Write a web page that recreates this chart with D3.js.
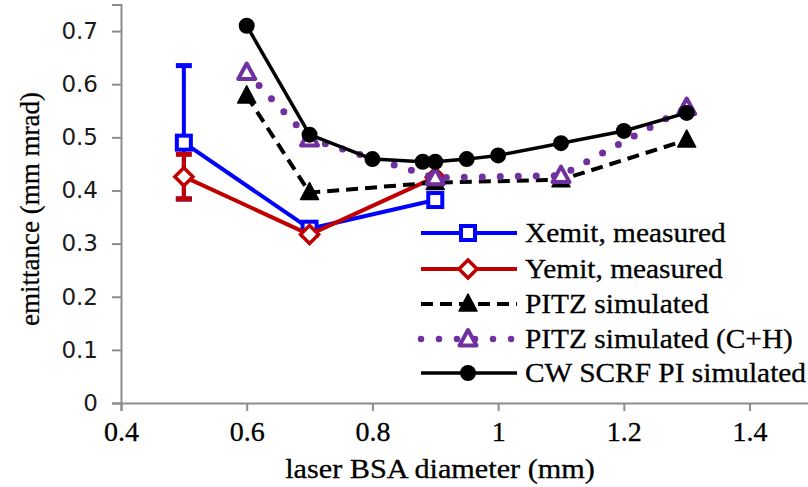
<!DOCTYPE html>
<html>
<head>
<meta charset="utf-8">
<script src="https://cdn.jsdelivr.net/npm/d3@7"></script>
<style>
  html, body { margin: 0; padding: 0; background: #fff; }
  svg { display: block; }
</style>
</head>
<body>
<svg id="chart" width="808" height="487"></svg>
<script>
// Emittance vs. laser BSA diameter
const xTicks = [0.4, 0.6, 0.8, 1.0, 1.2, 1.4];
const yTicks = [0, 0.1, 0.2, 0.3, 0.4, 0.5, 0.6, 0.7];

const xemitD = [0.5, 0.7, 0.9];
const xemitE = [0.49, 0.328, 0.382];
const xemitErrUp = [0.145, 0, 0];
const xemitErrDown = [0.106, 0, 0];

const yemitD = [0.5, 0.7, 0.9];
const yemitE = [0.426, 0.317, 0.425];
const yemitErrUp = [0.042, 0, 0];
const yemitErrDown = [0.042, 0, 0];

const pitzD = [0.6, 0.7, 0.9, 1.1, 1.3];
const pitzE = [0.578, 0.396, 0.415, 0.42, 0.495];

const pitzChD = [0.6, 0.7, 0.9, 1.1, 1.3];
const pitzChE = [0.622, 0.497, 0.424, 0.428, 0.556];

const cwD = [0.6, 0.7, 0.8, 0.88, 0.9, 0.95, 1.0, 1.1, 1.2, 1.3];
const cwE = [0.71, 0.505, 0.459, 0.454, 0.454, 0.459, 0.466, 0.489, 0.512, 0.546];

const seriesNames = ["Xemit, measured", "Yemit, measured", "PITZ simulated",
                     "PITZ simulated (C+H)", "CW SCRF PI simulated"];

const svg = d3.select("#chart");
const x = d3.scaleLinear().domain([0.4, 1.5]).range([121, 812.4]);
const y = d3.scaleLinear().domain([0, 0.75]).range([403, 4.5]);

const serif = "'Liberation Serif', 'Times New Roman', serif";
const sans = "'DejaVu Sans', Verdana, sans-serif";
const axisColor = "#8c8c8c";

// Axes
const yAxis = svg.append("g").attr("transform", "translate(121,0)")
  .call(d3.axisLeft(y).tickValues(yTicks).tickSize(9).tickPadding(14)
        .tickFormat(d => String(+d.toFixed(1))));
const xAxis = svg.append("g").attr("transform", "translate(0,403)")
  .call(d3.axisBottom(x).tickValues(xTicks).tickSize(8).tickPadding(10)
        .tickFormat(d => String(+d.toFixed(1))));
[yAxis, xAxis].forEach(g => {
  g.select(".domain").attr("stroke", axisColor).attr("stroke-width", 2);
  g.selectAll(".tick line").attr("stroke", axisColor).attr("stroke-width", 2);
});
yAxis.selectAll(".tick text").attr("font-family", sans).attr("font-size", 23)
  .attr("fill", "#1a1a1a");
xAxis.selectAll(".tick text").attr("font-family", serif).attr("font-size", 28)
  .attr("fill", "#000").attr("stroke", "#000").attr("stroke-width", 0.3);

// Serif label, slightly widened horizontally
function wideText(parent, tx, ty, str, size, sx, anchor) {
  return parent.append("text")
    .attr("transform", `translate(${tx},${ty}) scale(${sx},1)`)
    .attr("text-anchor", anchor)
    .attr("font-family", serif).attr("font-size", size)
    .attr("fill", "#000").attr("stroke", "#000").attr("stroke-width", 0.3)
    .text(str);
}

// Axis titles
wideText(svg, 440, 478, "laser BSA diameter (mm)", 28, 1.08, "middle");
svg.append("text").attr("transform", "translate(39,209) rotate(-90)")
  .attr("text-anchor", "middle")
  .attr("font-family", serif).attr("font-size", 27).attr("fill", "#000")
  .attr("stroke", "#000").attr("stroke-width", 0.3)
  .text("emittance (mm mrad)");

// Marker drawers
function markSquare(g, cx, cy, col) {
  g.append("rect").attr("x", cx - 7).attr("y", cy - 7).attr("width", 14).attr("height", 14)
    .attr("fill", "#fff").attr("stroke", col).attr("stroke-width", 4);
}
function markDiamond(g, cx, cy, col) {
  g.append("path").attr("d", `M${cx},${cy - 9}L${cx + 9},${cy}L${cx},${cy + 9}L${cx - 9},${cy}Z`)
    .attr("fill", "#fff").attr("stroke", col).attr("stroke-width", 3.5);
}
function markTriangle(g, cx, cy, col) {
  g.append("path").attr("d", `M${cx},${cy - 10}L${cx + 9},${cy + 7}L${cx - 9},${cy + 7}Z`)
    .attr("fill", col).attr("stroke", col).attr("stroke-width", 1.5).attr("stroke-linejoin", "round");
}
function markTriangleOpen(g, cx, cy, col) {
  g.append("path").attr("d", `M${cx},${cy - 9}L${cx + 8.5},${cy + 6.5}L${cx - 8.5},${cy + 6.5}Z`)
    .attr("fill", "#fff").attr("stroke", col).attr("stroke-width", 4).attr("stroke-linejoin", "round");
}
function markCircle(g, cx, cy, col) {
  g.append("circle").attr("cx", cx).attr("cy", cy).attr("r", 8).attr("fill", col);
}

const series = [
  { d: xemitD, e: xemitE, up: xemitErrUp, dn: xemitErrDown, color: "#0000ff", width: 4,
    dash: null, cap: "butt", marker: markSquare },
  { d: yemitD, e: yemitE, up: yemitErrUp, dn: yemitErrDown, color: "#c00000", width: 4,
    dash: null, cap: "butt", marker: markDiamond },
  { d: pitzD, e: pitzE, color: "#000", width: 4, dash: "12 7", cap: "butt", marker: markTriangle },
  { d: pitzChD, e: pitzChE, color: "#7030a0", width: 7, dash: "0 18", cap: "round", marker: markTriangleOpen },
  { d: cwD, e: cwE, color: "#000", width: 3.5, dash: null, cap: "butt", marker: markCircle }
];

const line = d3.line().x(p => x(p[0])).y(p => y(p[1]));

series.forEach(s => {
  const g = svg.append("g");
  const pts = s.d.map((v, i) => [v, s.e[i]]);
  // error bars
  if (s.up) {
    pts.forEach((p, i) => {
      if (!s.up[i] && !s.dn[i]) return;
      const cx = x(p[0]), y0 = y(p[1] - s.dn[i]), y1 = y(p[1] + s.up[i]);
      g.append("line").attr("x1", cx).attr("x2", cx).attr("y1", y0).attr("y2", y1)
        .attr("stroke", s.color).attr("stroke-width", 4);
      [y0, y1].forEach(yy => g.append("line").attr("x1", cx - 8).attr("x2", cx + 8)
        .attr("y1", yy).attr("y2", yy).attr("stroke", s.color).attr("stroke-width", 5));
    });
  }
  g.append("path").attr("d", line(pts)).attr("fill", "none")
    .attr("stroke", s.color).attr("stroke-width", s.width)
    .attr("stroke-dasharray", s.dash).attr("stroke-linecap", s.cap)
    .attr("stroke-linejoin", "round");
  pts.forEach(p => s.marker(g, x(p[0]), y(p[1]), s.color));
});

// Legend
const legend = svg.append("g");
const rowY = [233, 269, 304, 339, 373];
series.forEach((s, i) => {
  const ly = rowY[i];
  legend.append("line").attr("x1", 421).attr("x2", 517).attr("y1", ly).attr("y2", ly)
    .attr("stroke", s.color).attr("stroke-width", s.width === 7 ? 6.5 : s.width)
    .attr("stroke-dasharray", s.dash).attr("stroke-linecap", s.cap);
  s.marker(legend, 468, ly, s.color);
  wideText(legend, 525, ly + 9, seriesNames[i], 28, 1.05, "start");
});
</script>
</body>
</html>
